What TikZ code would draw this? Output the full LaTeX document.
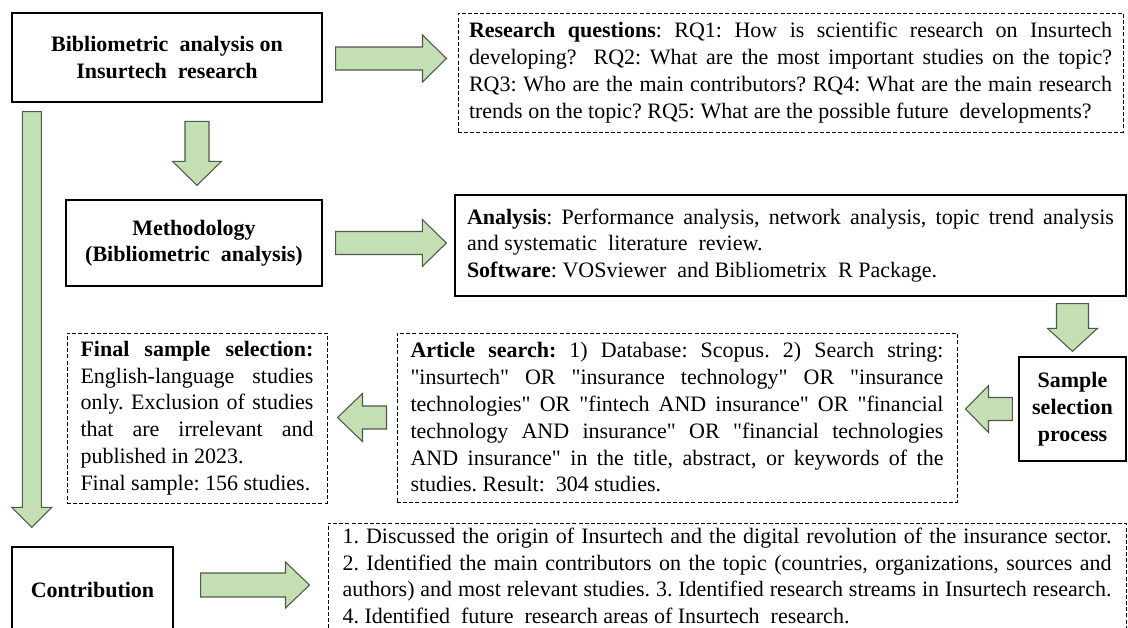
\documentclass[tikz,border=0pt]{standalone}
\usepackage{fontspec}
\setmainfont{Liberation Serif}[Ligatures=TeXOff]
\usetikzlibrary{calc}
\definecolor{arrowfill}{RGB}{197,223,180}
\definecolor{arrowline}{RGB}{80,88,76}
\newcommand{\PX}{0.75pt}
% fat block arrows: #1 start, #2 tip, #3 shaft half-width, #4 head half-width, #5 head length (px)
\newcommand\fatR[5]{\draw[fat] let \p1=#1, \p2=#2 in
  (\x1,{\y1+#3*\PX}) -- ({\x2-#5*\PX},{\y1+#3*\PX}) -- ({\x2-#5*\PX},{\y1+#4*\PX}) -- (\x2,\y1)
  -- ({\x2-#5*\PX},{\y1-#4*\PX}) -- ({\x2-#5*\PX},{\y1-#3*\PX}) -- (\x1,{\y1-#3*\PX}) -- cycle;}
\newcommand\fatL[5]{\draw[fat] let \p1=#1, \p2=#2 in
  (\x1,{\y1+#3*\PX}) -- ({\x2+#5*\PX},{\y1+#3*\PX}) -- ({\x2+#5*\PX},{\y1+#4*\PX}) -- (\x2,\y1)
  -- ({\x2+#5*\PX},{\y1-#4*\PX}) -- ({\x2+#5*\PX},{\y1-#3*\PX}) -- (\x1,{\y1-#3*\PX}) -- cycle;}
\newcommand\fatD[5]{\draw[fat] let \p1=#1, \p2=#2 in
  ({\x1-#3*\PX},\y1) -- ({\x1-#3*\PX},{\y2+#5*\PX}) -- ({\x1-#4*\PX},{\y2+#5*\PX}) -- (\x1,\y2)
  -- ({\x1+#4*\PX},{\y2+#5*\PX}) -- ({\x1+#3*\PX},{\y2+#5*\PX}) -- ({\x1+#3*\PX},\y1) -- cycle;}
\frenchspacing
\begin{document}
\frenchspacing
\begin{tikzpicture}[x=0.75pt,y=-0.75pt,
  font=\fontsize{16.5}{20.1}\selectfont\frenchspacing,
  sbox/.style={draw=black, line width=1pt, fill=white, inner sep=0pt, align=center,
    font=\fontsize{16.5}{19.8}\selectfont\bfseries},
  tbox/.style={draw=black, line width=1pt, fill=white, inner ysep=0pt, align=justify},
  dbox/.style={draw=black, line width=0.75pt, dash pattern=on 3pt off 1.6pt, fill=white,
    inner ysep=0pt, align=justify},
  fat/.style={fill=arrowfill, draw=arrowline, line width=0.8pt, line join=miter}]
\fill[white] (0,0) rectangle (1128,628);
\useasboundingbox (0,0) rectangle (1128,628);
\clip (0,0) rectangle (1128,628);

\node[sbox, minimum width=310*\PX, minimum height=89*\PX] (b1) at (167,57.5)
  {Bibliometric\ \ analysis on\\Insurtech\ \ research};

\node[dbox, text width=643*\PX, inner xsep=11*\PX, minimum height=119*\PX] (rq) at (790.5,72.5)
  {\textbf{Research questions}: RQ1: How is scientific research on Insurtech\linebreak
   developing?\ \ RQ2: What are the most important studies on the topic?\linebreak
   RQ3: Who are the main contributors? RQ4: What are the main research\linebreak
   trends on the topic? RQ5: What are the possible future\ \ developments?};

\node[sbox, minimum width=256*\PX, minimum height=86*\PX] (meth) at (194,243)
  {Methodology\\(Bibliometric\ \ analysis)};

\node[tbox, text width=647*\PX, inner xsep=12*\PX, minimum height=101*\PX] (ana) at (790.5,245.5)
  {\textbf{Analysis}: Performance analysis, network analysis, topic trend analysis\linebreak
   and systematic\ \ literature\ \ review.\newline
   \textbf{Software}: VOSviewer\ \ and Bibliometrix\ \ R Package.};

\node[sbox, minimum width=107*\PX, minimum height=104*\PX,
  font=\fontsize{16.5}{20.2}\selectfont\bfseries] (samp) at (1072.5,409)
  {Sample\\selection\\process};

\node[dbox, text width=533*\PX, inner xsep=13.5*\PX, minimum height=169*\PX] (art) at (677,417.5)
  {\textbf{Article search:} 1) Database: Scopus. 2) Search string:\linebreak
   "insurtech" OR "insurance technology" OR "insurance\linebreak
   technologies" OR "fintech AND insurance" OR "financial\linebreak
   technology AND insurance" OR "financial technologies\linebreak
   AND insurance" in the title, abstract, or keywords of the\linebreak
   studies. Result:\ \ 304 studies.};

\node[dbox, text width=233*\PX, inner xsep=13.5*\PX, minimum height=170*\PX] (fin) at (197,418)
  {\textbf{Final sample selection:}\linebreak
   English-language studies\linebreak
   only. Exclusion of studies\linebreak
   that are irrelevant and\linebreak
   published in 2023.\newline
   Final sample: 156 studies.};

\node[sbox, minimum width=161*\PX, minimum height=86*\PX] (contrib) at (92.5,590)
  {Contribution};

\node[dbox, text width=769*\PX, inner xsep=14.5*\PX, minimum height=106*\PX,
  font=\fontsize{16.5}{19.8}\selectfont\frenchspacing] (bot) at (727,576)
  {1. Discussed the origin of Insurtech and the digital revolution of the insurance sector.\linebreak
   2. Identified the main contributors on the topic (countries, organizations, sources and\linebreak
   authors) and most relevant studies. 3. Identified research streams in Insurtech research.\linebreak
   4. Identified\ \ future\ \ research areas of Insurtech\ \ research.};

% block arrows between the boxes
\fatR{($(b1.east)+(13,1)$)}{($(rq.west)+(-11,0)$)}{11.5}{23.5}{24}
\fatR{($(meth.east)+(13,0)$)}{($(ana.west)+(-8,0)$)}{11.5}{23.5}{24}
\fatD{($(meth.north)+(3,-78)$)}{($(meth.north)+(3,-14)$)}{12}{24.5}{24}
\fatD{($(b1.south west)+(20.5,9)$)}{($(contrib.north west)+(20.5,-19)$)}{9.5}{20}{20}
\fatD{($(ana.south -| samp.north)+(0,7)$)}{($(samp.north)+(0,-5)$)}{16}{25}{23}
\fatL{($(samp.west)+(-6,0)$)}{($(art.east)+(8,0)$)}{11.5}{23.5}{23}
\fatL{($(art.west)+(-10,0)$)}{($(fin.east)+(10,0)$)}{11.5}{24}{25}
\fatR{($(contrib.east)+(27,-5)$)}{($(bot.west)+(-18,0)$)}{12}{23}{24}
\end{tikzpicture}
\end{document}
